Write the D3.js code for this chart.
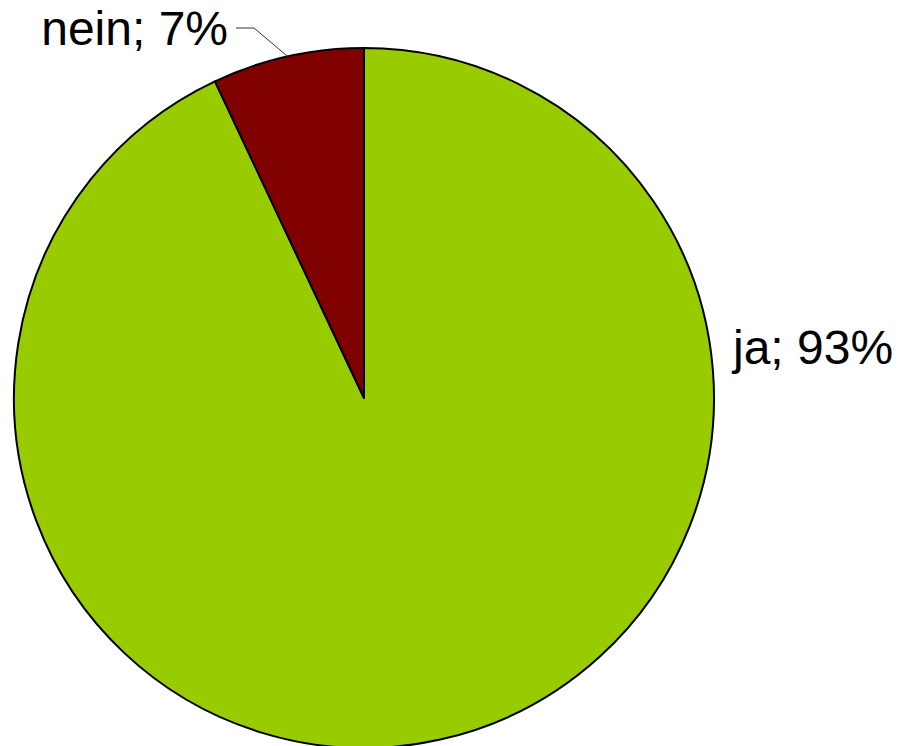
<!DOCTYPE html>
<html>
<head>
<meta charset="utf-8">
<script src="https://cdn.jsdelivr.net/npm/d3@7"></script>
<style>
	body { margin: 0; background: #fff; }
	text { font-family: "Liberation Sans", Arial, sans-serif; }
</style>
</head>
<body>
<div id="chart"></div>
<script>
const CATEGORIES = ["ja", "nein"];
const VALUES = [93, 7];
const LABELS = ["ja; 93%", "nein; 7%"];
const COLORS = ["#99cc00", "#800000"];

var width = 900,
	height = 746,
	cx = 364,
	cy = 398,
	radius = 350;

var svg = d3
	.select("#chart")
	.append("svg")
	.attr("width", width)
	.attr("height", height);

var g = svg.append("g").attr("transform", "translate(" + cx + "," + cy + ")");

var pie = d3.pie().sort(null).value(function (d) {
	return d;
});
var arcs = pie(VALUES);
var arc = d3.arc().innerRadius(0).outerRadius(radius);

// slices
g.selectAll("path")
	.data(arcs)
	.enter()
	.append("path")
	.attr("d", arc)
	.attr("fill", function (d, i) {
		return COLORS[i];
	})
	.attr("stroke", "#000")
	.attr("stroke-width", 2)
	.attr("stroke-linejoin", "round");

// ja label, to the right of the pie
var ja = arcs[0];
svg.append("text")
	.attr("x", cx + radius + 19)
	.attr("y", 364)
	.attr("font-size", 48)
	.attr("fill", "#000")
	.text(LABELS[0]);

// nein label with leader line
var nein = arcs[1];
var mid = (nein.startAngle + nein.endAngle) / 2;
var px = cx + Math.sin(mid) * radius,
	py = cy - Math.cos(mid) * radius;

svg.append("polyline")
	.attr("points", [[236, 28], [254, 28], [px, py]].map(function (p) {
		return p.join(",");
	}).join(" "))
	.attr("fill", "none")
	.attr("stroke", "#333")
	.attr("stroke-width", 1);

svg.append("text")
	.attr("x", 228)
	.attr("y", 45)
	.attr("text-anchor", "end")
	.attr("font-size", 48)
	.attr("fill", "#000")
	.text(LABELS[1]);
</script>
</body>
</html>
